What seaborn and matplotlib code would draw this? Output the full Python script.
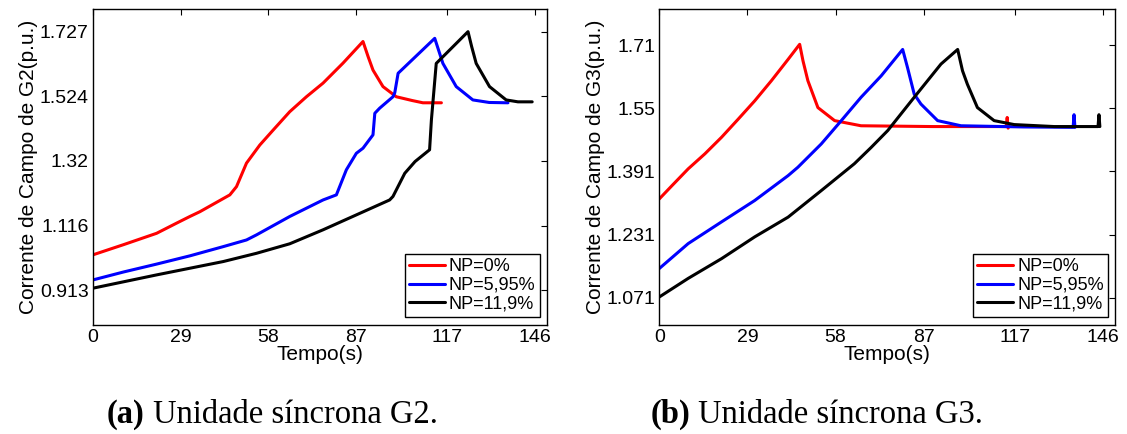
import matplotlib
matplotlib.use("Agg")
import matplotlib.pyplot as plt
import seaborn as sns
import pandas as pd

# Dados (tempo em s, corrente em p.u.)
series_nomes = ["NP=0%", "NP=5,95%", "NP=11,9%"]
cores = ["#ff0000", "#0000ff", "#000000"]

# Unidade G2
g2_t_np0 = [0, 10.1, 21.1, 27.7, 32.1, 35.4, 45.3, 47.5, 50.8, 55.2, 59.6, 65.1, 70.6, 76.1, 82.7, 89.3,
            91.0, 92.6, 95.9, 100.3, 105.6, 109.1, 115.2]
g2_i_np0 = [1.024, 1.056, 1.092, 1.124, 1.145, 1.160, 1.213, 1.239, 1.313, 1.370, 1.417, 1.475, 1.522, 1.565, 1.628, 1.696,
            1.648, 1.606, 1.554, 1.522, 1.510, 1.503, 1.503]

g2_t_np595 = [0, 10.1, 21.1, 32.1, 43.1, 50.8, 54.1, 65.1, 76.1, 80.5, 83.8, 87.1, 89.3, 92.6, 93.2, 94.8,
              99.2, 99.8, 100.9, 113.0, 115.7, 120.1, 125.6, 131.0, 137.2]
g2_i_np595 = [0.945, 0.970, 0.995, 1.021, 1.050, 1.071, 1.087, 1.145, 1.197, 1.213, 1.292, 1.344, 1.360, 1.402, 1.470, 1.486,
              1.522, 1.535, 1.596, 1.706, 1.627, 1.554, 1.512, 1.504, 1.503]

g2_t_np119 = [0, 21.1, 43.1, 54.1, 65.1, 76.1, 87.1, 98.1, 99.2, 103.1, 106.5, 111.3, 111.9, 113.5, 124.0,
              125.2, 126.7, 131.1, 136.6, 140.5, 145.2]
g2_i_np119 = [0.919, 0.961, 1.003, 1.029, 1.059, 1.103, 1.150, 1.197, 1.208, 1.281, 1.318, 1.355, 1.449, 1.627, 1.727,
              1.680, 1.627, 1.554, 1.512, 1.506, 1.506]

# Unidade G3
g3_t_np0 = [0, 4.1, 9.5, 15.0, 20.5, 26.0, 31.4, 36.9, 42.4, 46.2, 47.3, 48.9, 52.2, 57.7, 66.4, 90.0,
            114.2, 114.5, 114.8, 115.0]
g3_i_np0 = [1.321, 1.354, 1.397, 1.435, 1.477, 1.523, 1.569, 1.620, 1.674, 1.712, 1.670, 1.620, 1.552, 1.519, 1.506, 1.504,
            1.504, 1.527, 1.500, 1.504]

g3_t_np595 = [0, 9.5, 20.5, 31.4, 42.4, 45.6, 53.3, 59.9, 66.4, 73.0, 80.1, 81.7, 83.9, 86.1, 91.6, 99.3,
              120.0, 136.2, 136.5, 136.8]
g3_i_np595 = [1.145, 1.208, 1.263, 1.317, 1.380, 1.401, 1.460, 1.519, 1.578, 1.632, 1.699, 1.653, 1.586, 1.561, 1.519, 1.506,
              1.503, 1.502, 1.534, 1.502]

g3_t_np119 = [0, 9.5, 20.5, 31.4, 42.4, 53.3, 64.2, 69.7, 75.2, 83.9, 92.7, 98.2, 99.8, 101.4, 104.7, 110.2,
              116.8, 130.0, 144.4, 144.7, 145.0]
g3_i_np119 = [1.073, 1.120, 1.170, 1.225, 1.275, 1.342, 1.410, 1.451, 1.494, 1.578, 1.662, 1.699, 1.645, 1.611, 1.552, 1.519,
              1.509, 1.504, 1.504, 1.534, 1.504]

x_ticks = [0, 29, 58, 87, 117, 146]
g2_y_ticks = [0.913, 1.116, 1.32, 1.524, 1.727]
g3_y_ticks = [1.071, 1.231, 1.391, 1.55, 1.71]


def monta_df(ts, ys):
    partes = []
    for nome, t, y in zip(series_nomes, ts, ys):
        partes.append(pd.DataFrame({"t": t, "i": y, "serie": nome}))
    return pd.concat(partes, ignore_index=True)


df_g2 = monta_df([g2_t_np0, g2_t_np595, g2_t_np119], [g2_i_np0, g2_i_np595, g2_i_np119])
df_g3 = monta_df([g3_t_np0, g3_t_np595, g3_t_np119], [g3_i_np0, g3_i_np595, g3_i_np119])

sns.set_style("white")
plt.rcParams["font.family"] = ["Liberation Sans", "DejaVu Sans"]
plt.rcParams["text.color"] = "black"
plt.rcParams["axes.labelcolor"] = "black"

fig = plt.figure(figsize=(11.27, 4.34), dpi=100)
ax1 = fig.add_axes([0.0823, 0.251, 0.4028, 0.728])
ax2 = fig.add_axes([0.585, 0.251, 0.4044, 0.728])

paineis = [
    (ax1, df_g2, g2_y_ticks, (0.803, 1.798), "Corrente de Campo de G2(p.u.)"),
    (ax2, df_g3, g3_y_ticks, (1.002, 1.801), "Corrente de Campo de G3(p.u.)"),
]

for ax, df, yt, ylim, ylabel in paineis:
    sns.lineplot(data=df, x="t", y="i", hue="serie", palette=cores, estimator=None,
                 sort=False, linewidth=2.2, ax=ax)
    ax.set_xlim(0, 150)
    ax.set_ylim(*ylim)
    ax.set_xticks(x_ticks)
    ax.set_xticklabels([str(v) for v in x_ticks])
    ax.set_yticks(yt)
    ax.set_yticklabels([f"{v:g}" for v in yt])
    ax.tick_params(direction="in", length=4, width=0.8, top=True, right=True,
                   labelsize=14, colors="black", pad=3)
    for s in ax.spines.values():
        s.set_color("black")
        s.set_linewidth(1.0)
    ax.set_xlabel("Tempo(s)", fontsize=15, labelpad=-1)
    ax.set_ylabel(ylabel, fontsize=15, labelpad=1)
    leg = ax.legend(loc="lower right", bbox_to_anchor=(0.985, 0.025), fontsize=13,
                    frameon=True, fancybox=False, framealpha=1, edgecolor="black",
                    handlelength=2.0, handletextpad=0.2, labelspacing=0.1,
                    borderpad=0.25, borderaxespad=0)
    leg.get_frame().set_linewidth(1.0)
    for ln in leg.get_lines():
        ln.set_linewidth(2.2)

# Legendas das figuras (negrito + normal)
for x0, letra, texto in [(0.095, "(a)", " Unidade síncrona G2."), (0.577, "(b)", " Unidade síncrona G3.")]:
    t1 = fig.text(x0, 0.025, letra, fontsize=23.5, fontweight="bold",
                  family=["Liberation Serif", "DejaVu Serif"])
    fig.canvas.draw()
    plt.annotate(texto, xy=(1, 0), xycoords=t1, va="bottom", fontsize=23.5,
                 family=["Liberation Serif", "DejaVu Serif"])

fig.savefig("out.png", dpi=100)
